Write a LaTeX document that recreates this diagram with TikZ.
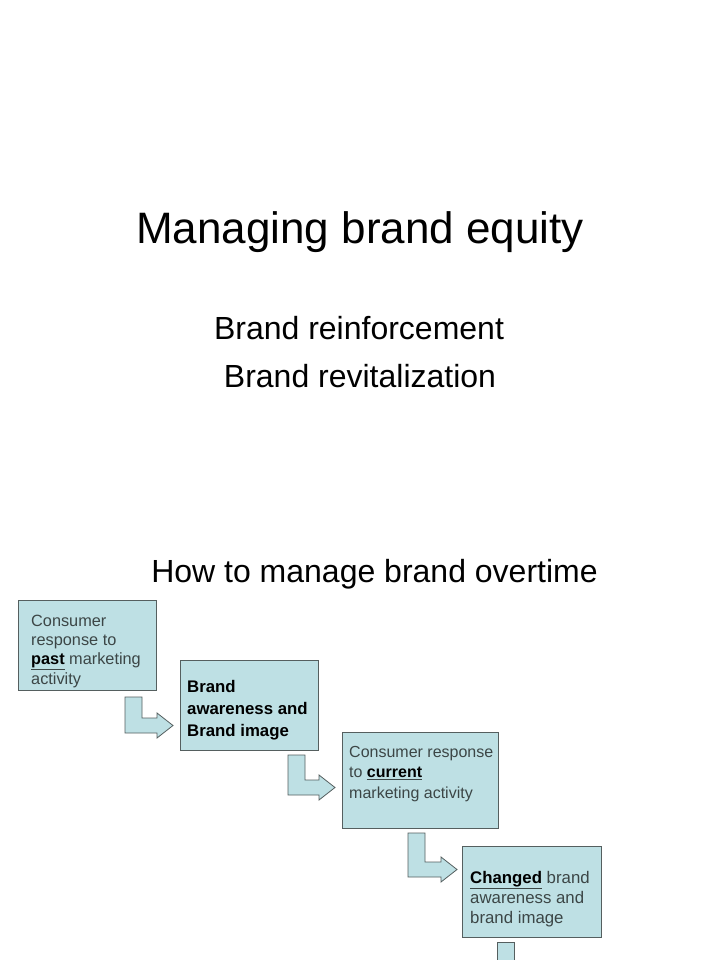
\documentclass[tikz,border=0pt]{standalone}
\usepackage{fontspec}
\setmainfont{Liberation Sans}
\usetikzlibrary{calc}
\definecolor{boxfill}{RGB}{190,224,228}
\definecolor{boxline}{RGB}{85,95,95}
\definecolor{boxtext}{RGB}{60,70,70}
\newcommand\myLarrow[4]{% left x, top y, bottom y, tip x
  \filldraw[arrowshape] (#1,#2) -- (#1+17,#2) -- (#1+17,#3-15) -- (#4-16,#3-15) -- (#4-16,#3-20)
    -- (#4,#3-7.5) -- (#4-16,#3+5) -- (#4-16,#3) -- (#1,#3) -- cycle;}
\newcommand\ul[1]{\underline{\textbf{\color{black}#1}}}
\tikzset{
  flowbox/.style={draw=boxline, fill=boxfill, line width=0.9pt, anchor=north west,
    inner sep=0pt},
  boxlabel/.style={anchor=base west, align=left, inner sep=0pt, text=boxtext},
  arrowshape/.style={draw=boxline, fill=boxfill, line width=0.8pt, line join=miter},
  heading/.style={text=black, inner sep=0pt, anchor=base}
}
\begin{document}
\begin{tikzpicture}[x=1pt,y=-1pt]
\useasboundingbox[fill=white] (0,0) rectangle (720,960);
\node[heading, font=\fontsize{44}{50}\selectfont] (title) at (360,243) {Managing brand equity};
\node[heading, font=\fontsize{32}{38}\selectfont] (sub1) at (359,339) {Brand reinforcement};
\node[heading, font=\fontsize{32}{38}\selectfont] (sub2) at (360,387) {Brand revitalization};
\node[heading, font=\fontsize{32}{38}\selectfont] (sub3) at (374.5,582) {How to manage brand overtime};

\node[flowbox, minimum width=138pt, minimum height=90pt] (b1) at (18,600) {};
\node[flowbox, minimum width=138pt, minimum height=90pt] (b2) at (180,660) {};
\node[flowbox, minimum width=156pt, minimum height=96pt] (b3) at (342,732) {};
\node[flowbox, minimum width=139pt, minimum height=91pt] (b4) at (462,846) {};

% anchor base = baseline of the last line
\node[boxlabel, font=\fontsize{16.3}{19.3}\selectfont] (t1) at ($(b1.north west)+(13,84)$)
  {Consumer\\response to\\\ul{past} marketing\\activity};
\node[boxlabel, text=black, font=\fontsize{16.8}{22}\selectfont\bfseries] (t2) at ($(b2.north west)+(7,76)$)
  {Brand\\awareness and\\Brand image};
\node[boxlabel, font=\fontsize{16}{20.5}\selectfont] (t3) at ($(b3.north west)+(7,66)$)
  {Consumer response\\to \ul{current}\\marketing activity};
\node[boxlabel, font=\fontsize{16.8}{20}\selectfont] (t4) at ($(b4.north west)+(8,77)$)
  {\ul{Changed} brand\\awareness and\\brand image};

\myLarrow{125}{697}{733}{173}
\myLarrow{288}{755}{795}{335}
\myLarrow{408}{833}{877}{457}
\filldraw[arrowshape] (497,942) rectangle (514,968);
\end{tikzpicture}
\end{document}
